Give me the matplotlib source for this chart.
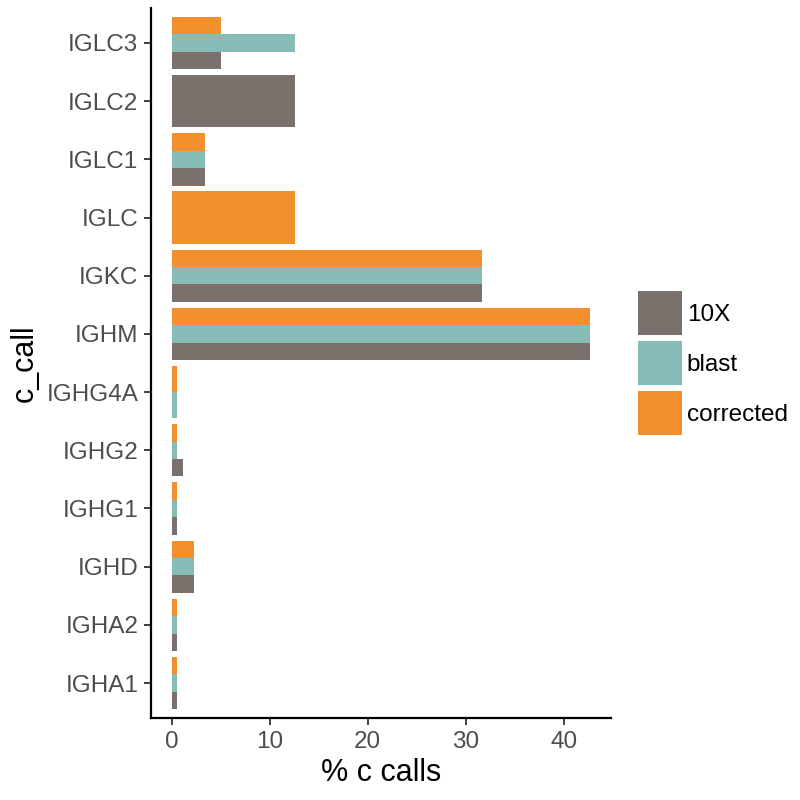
import numpy as np
import matplotlib.pyplot as plt

plt.rcParams['font.family'] = ['Liberation Sans', 'DejaVu Sans']

# categories bottom to top
genes = ['IGHA1', 'IGHA2', 'IGHD', 'IGHG1', 'IGHG2', 'IGHG4A',
         'IGHM', 'IGKC', 'IGLC', 'IGLC1', 'IGLC2', 'IGLC3']
series = ['10X', 'blast', 'corrected']
colors = ['#7A716D', '#86BCB5', '#F3902E']

# % c calls per gene (None = absent)
pct_10x = [0.56, 0.56, 2.25, 0.56, 1.12, None, 42.7, 31.7, None, 3.37, 12.6, 5.06]
pct_blast = [0.56, 0.56, 2.25, 0.56, 0.56, 0.56, 42.7, 31.7, None, 3.37, None, 12.6]
pct_corrected = [0.56, 0.56, 2.25, 0.56, 0.56, 0.56, 42.7, 31.7, 12.6, 3.37, None, 5.06]
values = [pct_10x, pct_blast, pct_corrected]

fig = plt.figure(figsize=(8, 8), dpi=100)
ax = fig.add_axes([0.18875, 0.1025, 0.575, 0.8875])

width = 0.9
for i, g in enumerate(genes):
    present = [k for k in range(len(series)) if values[k][i] is not None]
    n = len(present)
    h = width / n
    for j, k in enumerate(present):
        y = i - width / 2 + h * (j + 0.5)
        ax.barh(y, values[k][i], height=h, color=colors[k], linewidth=0)

# legend handles
for k, s in enumerate(series):
    ax.barh(np.nan, np.nan, color=colors[k], label=s)

ax.set_yticks(range(len(genes)))
ax.set_yticklabels(genes)
ax.set_ylim(-0.6, len(genes) - 0.4)
xmax = 42.7
ax.set_xlim(-0.05 * xmax, xmax * 1.05)
ax.set_xticks([0, 10, 20, 30, 40])

for side in ['top', 'right']:
    ax.spines[side].set_visible(False)
for side in ['left', 'bottom']:
    ax.spines[side].set_linewidth(1.6)
    ax.spines[side].set_color('black')
ax.tick_params(axis='both', labelsize=17.5, colors='#333333', length=5,
               width=1.3, labelcolor='#4D4D4D', pad=4)

ax.set_xlabel('% c calls', fontsize=22, labelpad=4)
ax.set_ylabel('c_call', fontsize=22, labelpad=5)

leg = ax.legend(loc='center left', bbox_to_anchor=(0.7975, 0.546),
                bbox_transform=fig.transFigure, frameon=False, fontsize=17.5,
                handlelength=1.81, handleheight=2.41, labelspacing=0.25,
                handletextpad=0.2, borderpad=0, borderaxespad=0)

fig.savefig('out.png', dpi=100)
